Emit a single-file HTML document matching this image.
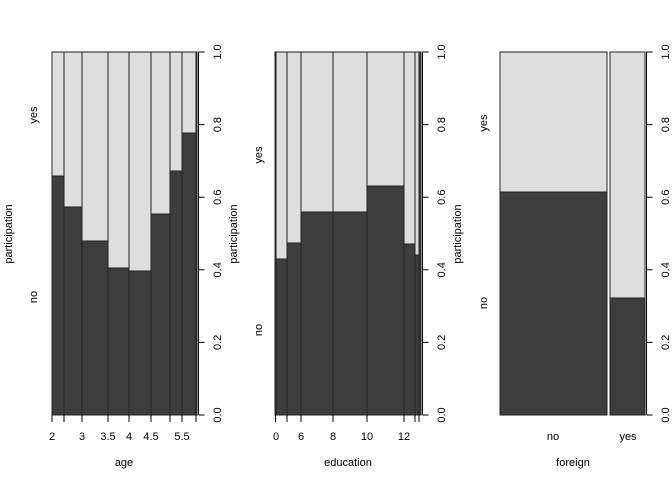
<!DOCTYPE html>
<html><head><meta charset="utf-8"><style>
html,body{margin:0;padding:0;background:#fff;}
svg{display:block;font-family:"Liberation Sans",Arial,sans-serif;}
</style></head><body>
<svg width="672" height="480" viewBox="0 0 672 480" xmlns="http://www.w3.org/2000/svg">
<g stroke="#222" stroke-width="1">
<!-- Panel 1 -->
<rect x="52" y="52" width="12" height="124" fill="#dedede"/><rect x="52" y="176" width="12" height="239" fill="#3d3d3d"/>
<rect x="64" y="52" width="18" height="155" fill="#dedede"/><rect x="64" y="207" width="18" height="208" fill="#3d3d3d"/>
<rect x="82" y="52" width="26" height="189" fill="#dedede"/><rect x="82" y="241" width="26" height="174" fill="#3d3d3d"/>
<rect x="108" y="52" width="21" height="216" fill="#dedede"/><rect x="108" y="268" width="21" height="147" fill="#3d3d3d"/>
<rect x="129" y="52" width="22" height="219" fill="#dedede"/><rect x="129" y="271" width="22" height="144" fill="#3d3d3d"/>
<rect x="151" y="52" width="19" height="162" fill="#dedede"/><rect x="151" y="214" width="19" height="201" fill="#3d3d3d"/>
<rect x="170" y="52" width="12" height="119" fill="#dedede"/><rect x="170" y="171" width="12" height="244" fill="#3d3d3d"/>
<rect x="182" y="52" width="14" height="81" fill="#dedede"/><rect x="182" y="133" width="14" height="282" fill="#3d3d3d"/>
<rect x="196" y="52" width="1" height="33" fill="#dedede"/><rect x="196" y="85" width="1" height="330" fill="#3d3d3d"/>
<!-- Panel 2 -->
<rect x="275" y="52" width="1" height="76" fill="#dedede"/><rect x="275" y="128" width="1" height="287" fill="#3d3d3d"/>
<rect x="276" y="52" width="11" height="207" fill="#dedede"/><rect x="276" y="259" width="11" height="156" fill="#3d3d3d"/>
<rect x="287" y="52" width="14" height="191" fill="#dedede"/><rect x="287" y="243" width="14" height="172" fill="#3d3d3d"/>
<rect x="301" y="52" width="32" height="160" fill="#dedede"/><rect x="301" y="212" width="32" height="203" fill="#3d3d3d"/>
<rect x="333" y="52" width="34" height="160" fill="#dedede"/><rect x="333" y="212" width="34" height="203" fill="#3d3d3d"/>
<rect x="367" y="52" width="37" height="134" fill="#dedede"/><rect x="367" y="186" width="37" height="229" fill="#3d3d3d"/>
<rect x="404" y="52" width="11" height="192" fill="#dedede"/><rect x="404" y="244" width="11" height="171" fill="#3d3d3d"/>
<rect x="415" y="52" width="4" height="203" fill="#dedede"/><rect x="415" y="255" width="4" height="160" fill="#3d3d3d"/>
<rect x="419" y="52" width="2" height="363" fill="#3d3d3d"/>
<!-- Panel 3 -->
<rect x="500" y="52" width="107" height="140" fill="#dedede"/><rect x="500" y="192" width="107" height="223" fill="#3d3d3d"/>
<rect x="610" y="52" width="35" height="246" fill="#dedede"/><rect x="610" y="298" width="35" height="117" fill="#3d3d3d"/>
</g>
<g stroke="#000" stroke-width="1" fill="none">
<path d="M198.5 52V415M198.5 52h6M198.5 124.6h6M198.5 197.2h6M198.5 269.8h6M198.5 342.4h6M198.5 415h6"/>
<path d="M422.5 52V415M422.5 52h6M422.5 124.6h6M422.5 197.2h6M422.5 269.8h6M422.5 342.4h6M422.5 415h6"/>
<path d="M646.5 52V415M646.5 52h6M646.5 124.6h6M646.5 197.2h6M646.5 269.8h6M646.5 342.4h6M646.5 415h6"/>
<path d="M52 415V422M64 415V422M82 415V422M108 415V422M129 415V422M151 415V422M170 415V422M182 415V422M196 415V422"/>
<path d="M275.5 415V422M287 415V422M301 415V422M333 415V422M367 415V422M404 415V422M415 415V422M419 415V422"/>
</g>
<g font-size="11" fill="#000" text-anchor="middle">
<text x="52" y="440">2</text><text x="82" y="440">3</text><text x="108" y="440">3.5</text><text x="129" y="440">4</text><text x="151" y="440">4.5</text><text x="182" y="440">5.5</text>
<text x="276" y="440">0</text><text x="301" y="440">6</text><text x="333" y="440">8</text><text x="367" y="440">10</text><text x="404" y="440">12</text>
<text x="553" y="440">no</text><text x="628" y="440">yes</text>
<text x="124" y="466">age</text><text x="348" y="466">education</text><text x="573" y="466">foreign</text>
<g id="yl">
<text transform="translate(221,415) rotate(-90)">0.0</text><text transform="translate(221,342.4) rotate(-90)">0.2</text><text transform="translate(221,269.8) rotate(-90)">0.4</text><text transform="translate(221,197.2) rotate(-90)">0.6</text><text transform="translate(221,124.6) rotate(-90)">0.8</text><text transform="translate(221,52) rotate(-90)">1.0</text>
</g>
<use href="#yl" x="224"/><use href="#yl" x="448"/>
<text transform="translate(237,234) rotate(-90)">participation</text>
<text transform="translate(461,234) rotate(-90)">participation</text>
<text transform="translate(12,234) rotate(-90)">participation</text>
<text transform="translate(37,115) rotate(-90)">yes</text><text transform="translate(37,297) rotate(-90)">no</text>
<text transform="translate(262,155) rotate(-90)">yes</text><text transform="translate(262,330) rotate(-90)">no</text>
<text transform="translate(487,123) rotate(-90)">yes</text><text transform="translate(487,303) rotate(-90)">no</text>
</g>
</svg>
</body></html>
